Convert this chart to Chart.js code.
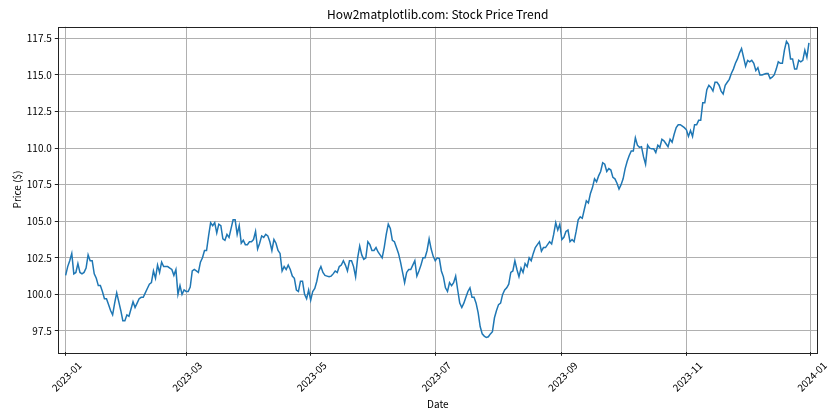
<!DOCTYPE html>
<html>
<head>
<meta charset="utf-8">
<title>Stock Price Trend</title>
<script src="https://cdn.jsdelivr.net/npm/chart.js@4.4.0/dist/chart.umd.min.js"></script>
<style>
    html, body { margin: 0; padding: 0; background: #ffffff; }
    #chart-container { width: 840px; height: 420px; }
</style>
</head>
<body>
<div id="chart-container"><canvas id="price-chart" width="840" height="420"></canvas></div>
<script>
// Daily closing prices, 2023-01-01 .. 2023-12-31
const startDate = '2023-01-01';
const closePrices = [
    // Jan
    101.3, 101.9, 102.3, 102.8, 101.4, 101.5, 102.1, 101.5, 101.4, 101.5,
    101.8, 102.7, 102.3, 102.3, 101.4, 101.1, 100.6, 100.6, 100.2, 99.7,
    99.7, 99.3, 98.9, 98.6, 99.4, 100.1, 99.5, 98.9, 98.2, 98.2,
    98.6,
    // Feb
    98.5, 99.0, 99.5, 99.1, 99.4, 99.7, 99.8, 99.8, 100.1,
    100.4, 100.7, 100.8, 101.6, 101.1, 102.0, 101.5, 102.2, 101.9, 101.9,
    101.9, 101.8, 101.7, 101.3, 101.7, 100.0, 100.6, 100.0, 100.3,
    // Mar
    100.2, 100.2, 100.5, 101.6, 101.7, 101.6, 101.5, 102.2, 102.5, 103.0,
    103.0, 104.0, 104.9, 104.7, 104.9, 104.2, 104.8, 104.7, 103.8, 103.7,
    104.1, 103.9, 104.5, 105.1, 105.1, 104.1, 104.7, 103.5, 103.7, 103.4,
    103.4,
    // Apr
    103.6, 103.6, 103.75, 104.3, 103.1, 103.5, 104.0, 103.9, 104.1, 104.0,
    103.6, 103.0, 103.75, 103.5, 103.0, 102.8, 101.6, 101.9, 101.7, 102.0,
    101.7, 101.25, 101.1, 100.3, 100.2, 100.9, 100.9, 100.0, 99.7, 100.3,
    // May
    99.6, 100.2, 100.4, 100.9, 101.6, 101.9, 101.5, 101.3, 101.25, 101.2,
    101.25, 101.4, 101.6, 101.5, 101.9, 102.0, 102.3, 102.0, 101.6, 102.3,
    102.3, 101.9, 101.2, 102.5, 103.3, 102.7, 102.4, 102.5, 103.6, 103.4,
    103.0,
    // Jun
    103.0, 103.2, 102.9, 102.7, 102.5, 103.2, 104.1, 104.8, 104.5, 103.7,
    103.6, 103.2, 102.8, 102.2, 101.5, 100.8, 101.5, 101.7, 101.7, 102.0,
    102.3, 101.25, 101.6, 102.0, 102.5, 102.5, 103.0, 103.8, 103.1, 102.6,
    // Jul
    102.3, 102.5, 102.45, 101.6, 101.2, 100.45, 100.2, 100.8, 100.6, 100.8,
    101.25, 100.3, 99.4, 99.1, 99.4, 99.8, 100.2, 100.45, 99.8, 99.8,
    99.4, 98.75, 97.8, 97.3, 97.15, 97.05, 97.1, 97.3, 97.45, 98.4,
    98.9,
    // Aug
    99.3, 99.4, 100.0, 100.3, 100.45, 100.7, 101.5, 101.6, 102.3, 101.7,
    101.2, 101.8, 101.5, 102.1, 101.9, 102.5, 102.3, 102.8, 103.2, 103.4,
    103.6, 102.95, 103.2, 103.2, 103.4, 103.6, 103.45, 104.1, 104.9, 104.4,
    104.8,
    // Sep
    103.75, 103.9, 104.3, 104.4, 103.6, 103.75, 103.6, 104.3, 105.1, 105.3,
    105.2, 105.8, 106.4, 106.25, 106.9, 107.3, 107.9, 107.7, 108.1, 108.4,
    109.0, 108.9, 108.4, 108.6, 108.5, 108.0, 107.9, 107.6, 107.2, 107.5,
    // Oct
    107.9, 108.6, 109.1, 109.5, 109.8, 109.8, 110.7, 110.2, 110.05, 110.1,
    109.4, 108.9, 110.2, 110.0, 109.95, 109.95, 109.7, 110.2, 110.05, 110.6,
    110.5, 110.3, 110.1, 110.6, 110.4, 110.95, 111.4, 111.6, 111.6, 111.5,
    111.4,
    // Nov
    111.25, 110.8, 111.2, 110.8, 111.6, 111.6, 111.9, 111.9, 113.1, 113.1,
    114.0, 114.3, 114.15, 113.9, 114.5, 114.5, 114.3, 113.9, 113.7, 114.3,
    114.5, 114.7, 115.1, 115.4, 115.8, 116.1, 116.5, 116.8, 116.2, 115.6,
    // Dec
    116.0, 115.9, 116.0, 115.8, 115.3, 115.5, 115.0, 115.0, 115.05, 115.1,
    115.1, 114.75, 114.85, 115.0, 115.4, 115.9, 115.8, 115.8, 116.7, 117.3,
    117.1, 116.1, 116.1, 115.4, 115.4, 116.0, 115.9, 116.0, 116.7, 116.2,
    117.2
];

const chartTitle = 'How2matplotlib.com: Stock Price Trend';
const xTickLabels = ['2023-01', '2023-03', '2023-05', '2023-07', '2023-09', '2023-11', '2024-01'];
const yTicks = [97.5, 100.0, 102.5, 105.0, 107.5, 110.0, 112.5, 115.0, 117.5];

const FONT = "'Noto Sans CJK SC', 'Noto Sans', sans-serif";
const DAY_MS = 86400000;
const t0 = Date.parse(startDate);

// day offset from startDate for a 'YYYY-MM' label
function dayOffset(label) {
    return Math.round((Date.parse(label + '-01') - t0) / DAY_MS);
}

const xTickDays = xTickLabels.map(dayOffset);
const points = closePrices.map((p, i) => ({ x: i, y: p }));

// matplotlib-style box around the plot area, title centred over the axes
const frame = {
    id: 'frame',
    afterDatasetsDraw(chart) {
        const { ctx, chartArea: a } = chart;
        ctx.save();
        ctx.strokeStyle = '#222222';
        ctx.lineWidth = 1;
        ctx.strokeRect(Math.round(a.left) + 0.5, Math.round(a.top) + 0.5,
            Math.round(a.right - a.left), Math.round(a.bottom - a.top));
        ctx.fillStyle = '#000000';
        ctx.font = '12px ' + FONT;
        ctx.textAlign = 'center';
        ctx.textBaseline = 'middle';
        ctx.fillText(chartTitle, (a.left + a.right) / 2, 14);
        ctx.restore();
    }
};

const ctx = document.getElementById('price-chart').getContext('2d');

new Chart(ctx, {
    type: 'line',
    data: {
        datasets: [{
            label: 'Price',
            data: points,
            borderColor: '#1f77b4',
            borderWidth: 1.5,
            pointRadius: 0,
            tension: 0,
            fill: false
        }]
    },
    options: {
        responsive: false,
        animation: false,
        layout: { padding: { left: 0, right: 22.7, top: 26.7, bottom: 0 } },
        plugins: {
            legend: { display: false },
            tooltip: { enabled: false },
            title: { display: false }
        },
        scales: {
            x: {
                type: 'linear',
                min: -3.6,
                max: 368.1,
                afterBuildTicks: (scale) => {
                    scale.ticks = xTickDays.map(v => ({ value: v }));
                },
                afterFit: (scale) => { scale.height = 67.7; },
                ticks: {
                    autoSkip: false,
                    minRotation: 45,
                    maxRotation: 45,
                    labelOffset: 14,
                    padding: 3.5,
                    color: '#000000',
                    font: { family: FONT, size: 10 },
                    callback: (value, index) => xTickLabels[index]
                },
                grid: { color: '#b0b0b0', lineWidth: 1, tickLength: 3.5, tickColor: '#222222' },
                border: { display: false },
                title: {
                    display: true,
                    text: 'Date',
                    color: '#000000',
                    font: { family: FONT, size: 10 },
                    padding: { top: 0, bottom: 10 }
                }
            },
            y: {
                min: 96.04,
                max: 118.3,
                afterBuildTicks: (scale) => {
                    scale.ticks = yTicks.map(v => ({ value: v }));
                },
                afterFit: (scale) => { scale.width = 58.3; },
                ticks: {
                    padding: 3,
                    color: '#000000',
                    font: { family: FONT, size: 10 },
                    callback: (value) => value.toFixed(1)
                },
                grid: { color: '#b0b0b0', lineWidth: 1, tickLength: 3.5, tickColor: '#222222' },
                border: { display: false },
                title: {
                    display: true,
                    text: 'Price ($)',
                    color: '#000000',
                    font: { family: FONT, size: 10 },
                    padding: { top: 11, bottom: 0 }
                }
            }
        }
    },
    plugins: [frame]
});
</script>
</body>
</html>
